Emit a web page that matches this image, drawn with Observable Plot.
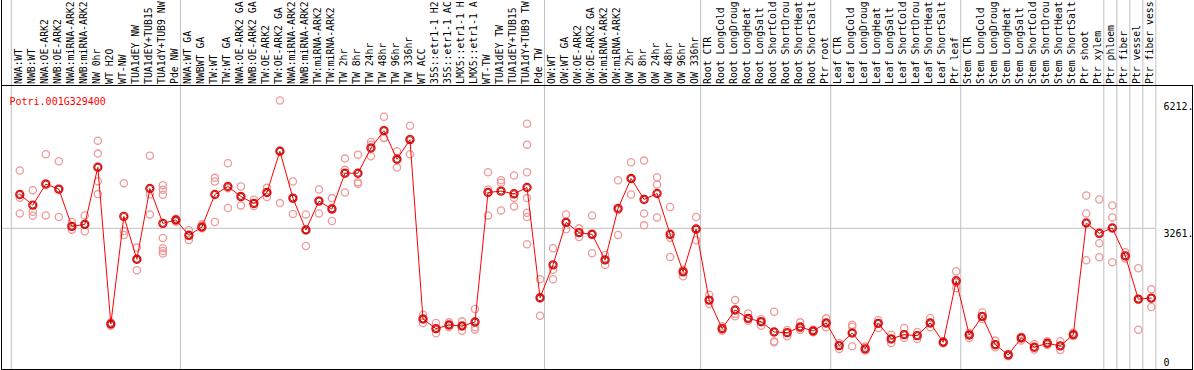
<!DOCTYPE html>
<html>
<head>
<meta charset="utf-8">
<script src="https://cdn.jsdelivr.net/npm/d3@7"></script>
<script src="https://cdn.jsdelivr.net/npm/@observablehq/plot@0.6"></script>
<style>
  html, body { margin: 0; padding: 0; background: #fff; }
</style>
</head>
<body>
<div id="chart"></div>
<script>
const geneName = "Potri.001G329400";

// sample labels (the source truncates them to 14 characters)
const categories = [
  "NWA:WT","NWB:WT","NWA:OE-ARK2","NWB:OE-ARK2","NWA:miRNA-ARK2","NWB:miRNA-ARK2","NW 0hr","WT H2O","WT-NW","TUA1dEY NW","TUA1dEY+TUB15","TUA1dY+TUB9 NW","Pde NW",
  "NWA:WT GA","NWBWT GA","TW:WT","TW:WT GA","NWA:OE-ARK2 GA","NWB:OE-ARK2 GA","TW:OE-ARK2","TW:OE-ARK2 GA","NWA:miRNA-ARK2","NWB:miRNA-ARK2","TW:miRNA-ARK2","TW:miRNA-ARK2","TW 2hr","TW 8hr","TW 24hr","TW 48hr","TW 96hr","TW 336hr","WT ACC","35S::etr1-1 H2","35S::etr1-1 AC","LMX5::etr1-1 H","LMX5::etr1-1 A","WT-TW","TUA1dEY TW","TUA1dEY+TUB15","TUA1dY+TUB9 TW","Pde TW",
  "OW:WT","OW:WT GA","OW:OE-ARK2","OW:OE-ARK2 GA","OW:miRNA-ARK2","OW:miRNA-ARK2","OW 2hr","OW 8hr","OW 24hr","OW 48hr","OW 96hr","OW 336hr",
  "Root CTR","Root LongCold","Root LongDroug","Root LongHeat","Root LongSalt","Root ShortCold","Root ShortDrou","Root ShortHeat","Root ShortSalt","Ptr root",
  "Leaf CTR","Leaf LongCold","Leaf LongDroug","Leaf LongHeat","Leaf LongSalt","Leaf ShortCold","Leaf ShortDrou","Leaf ShortHeat","Leaf ShortSalt","Ptr leaf",
  "Stem CTR","Stem LongCold","Stem LongDroug","Stem LongHeat","Stem LongSalt","Stem ShortCold","Stem ShortDrou","Stem ShortHeat","Stem ShortSalt","Ptr shoot",
  "Ptr xylem","Ptr phloem","Ptr fiber","Ptr vessel","Ptr fiber vess"
];

const means = [
  4042,3797,4280,4165,3306,3352,4671,1051,3536,2546,4180,3375,3452,
  3099,3290,4042,4226,3996,3835,4088,5039,3958,3221,3889,3705,4533,4533,5116,5515,4855,5308,1166,943,1028,1005,1097,4088,4119,4057,4203,1657,
  2416,3398,3160,3122,2531,3720,4410,3927,4065,3122,2255,3244,
  1603,943,1373,1181,1104,867,851,982,890,1074,
  552,844,476,1066,706,805,782,1074,629,2048,
  798,1227,575,337,729,514,606,545,805,3382,
  3145,3267,2623,1626,1649
];

const replicates = [
  [4594,3965,3605],[4142,3643,3551],[4970,4295,3559],[4809,4165,3521],[3405,3313,3229],[3559,3352,3191],
  [5285,4986,4349,4050],[1089,1051,1012],[4303,3198,3106],[2815,2546,2293],[4939,4042,3582],
  [4257,4149,4034,3037,2800,2738,2677],[3482,3444,3413],
  [3214,3099,2991],[3352,3290,3260],[4426,4341,3405],[4763,4188,3728],[4226,3973,3789],[3919,3835,3774],
  [4195,4088,3981],[6212,5047,3843],[4341,3942,3590],[3582,3229,2853],[4157,3904,3605],[3958,3728,3428],
  [4870,4610,4088],[4962,4326,4288],[5254,5193,4924],[5837,5354,5346],[5039,4855,4663],[5630,5323,4970],
  [1266,1166,1074],[1074,943,836],[1089,1028,974],[1112,1005,897],[1396,974,920],
  [4556,4157,3559],[4372,4311,3674],[4479,3965,3766],[5676,5193,4556,3958,3620,3521,2892],[2086,1641,1243],
  [2800,2301,2086],[3582,3398,3237],[3260,3160,3060],[3559,3122,2685],[2646,2531,2416],[4372,3682,3106],
  [4786,4403,4042],[4824,3605,3329],[4441,4272,3513],[3751,3045,2600],[2301,2255,2155],[3521,3229,2984],
  [1726,1603,1511],[997,943,897],[1603,1281,1227],[1296,1181,1127],[1166,1104,1012],[1335,652,629],
  [913,851,767],[1089,959,913],[920,890,859],[1181,1074,974],
  [614,552,476],[1035,989,537],[529,476,437],[1143,1066,959],[805,706,614],[959,805,729],
  [867,782,706],[1189,1074,974],[652,629,606],[2270,2002,1879],
  [844,798,729],[1319,1227,1166],[667,575,514],[360,337,307],[759,729,667],[591,514,460],
  [652,606,568],[652,545,453],[851,805,775],[4019,3605,2523],
  [3927,2915,2592],[3789,3513,2477],[2708,2623,2562],[2339,1618,920],[1856,1649,1442]
];

// group boundaries: index of last category before each separator (-1 = left edge)
const groupEnds = [-1, 12, 40, 52, 62, 72, 83, 84, 85, 86, 87];
const yTickValues = [6212, 3261];
const yTickLabels = ["6212.", "3261."];
const yZeroLabel = "0";
const gridValue = 3261;

const meanData = means.map((v, i) => ({i, v}));
const repData = replicates.flatMap((arr, i) => arr.map(v => ({i, v})));
const labelData = categories.map((c, i) => ({i, c}));

const FONT = "DejaVu Sans Mono";

const leftHeaderBorder = () => {
  const g = d3.create("svg:g");
  g.append("line").attr("x1", 1.5).attr("x2", 1.5).attr("y1", 0).attr("y2", 85)
    .attr("stroke", "black");
  return g.node();
};

const chart = Plot.plot({
  width: 1194,
  height: 370,
  marginLeft: 1,
  marginRight: 2,
  marginTop: 85,
  marginBottom: 1,
  style: {fontFamily: FONT, fontSize: "10px", background: "white"},
  x: {type: "linear", domain: [0, categories.length - 1], range: [19.3, 19.3 + 87 * 13.006], axis: null},
  y: {domain: [0, 6212], range: [369, 100], axis: null},
  marks: [
    Plot.ruleX(groupEnds, {x: d => d + 0.5, dx: -2, stroke: "#c0c0c0", strokeWidth: 1, insetTop: -85}),
    Plot.ruleY([gridValue], {stroke: "#c0c0c0", strokeWidth: 1, insetRight: 37}),
    Plot.frame({stroke: "black"}),
    leftHeaderBorder,
    Plot.dot(repData, {x: "i", y: "v", r: 3.6, stroke: "#ee9a9a", strokeWidth: 1.3, fill: "none"}),
    Plot.line(meanData, {x: "i", y: "v", stroke: "#ff0000", strokeWidth: 1}),
    Plot.dot(meanData, {x: "i", y: "v", r: 4, stroke: "#ff0000", strokeWidth: 1.4, fill: "none"}),
    Plot.dot(meanData, {x: "i", y: "v", r: 3, stroke: "#700000", strokeWidth: 0.8, fill: "none"}),
    Plot.text(labelData, {x: "i", text: "c", frameAnchor: "top", dy: -1.5, dx: -1, rotate: -90, textAnchor: "start", lineAnchor: "middle", fill: "black", fontFamily: FONT, fontSize: 9.8}),
    Plot.text([geneName], {frameAnchor: "top-left", dx: 8, dy: 12, textAnchor: "start", fill: "#ff0000", fontFamily: FONT, fontSize: 10}),
    Plot.text(yTickValues, {y: d => d, text: (d, k) => yTickLabels[k], frameAnchor: "right", dx: -29, dy: 6, textAnchor: "start", fill: "black", fontFamily: FONT, fontSize: 10}),
    Plot.text([0], {y: d => d, text: () => yZeroLabel, frameAnchor: "right", dx: -29, dy: -7, textAnchor: "start", fill: "black", fontFamily: FONT, fontSize: 10})
  ]
});

document.getElementById("chart").appendChild(chart);
</script>
</body>
</html>
